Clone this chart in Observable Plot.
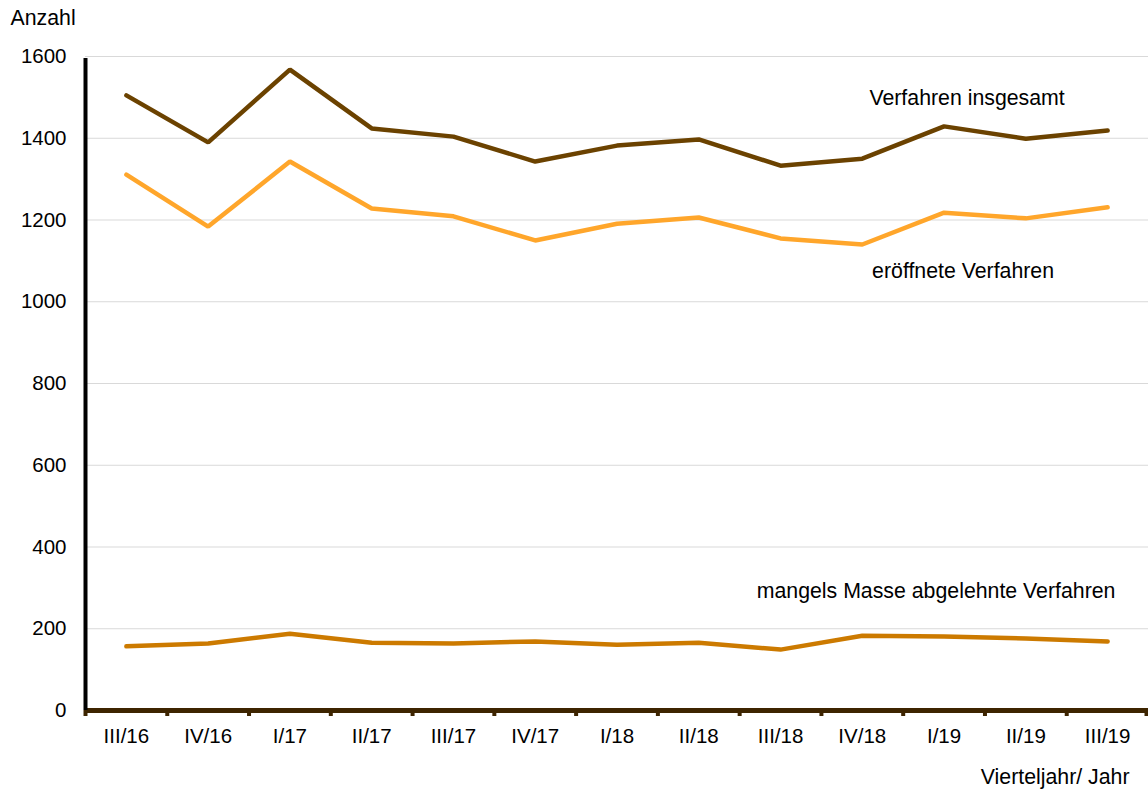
<!DOCTYPE html>
<html>
<head>
<meta charset="utf-8">
<script src="https://cdn.jsdelivr.net/npm/d3@7"></script>
<script src="https://cdn.jsdelivr.net/npm/@observablehq/plot@0.6"></script>
<style>
  html, body { margin: 0; padding: 0; background: #fff; }
  svg { display: block; }
</style>
</head>
<body>
<div id="chart"></div>
<script>
const quarters = ["III/16","IV/16","I/17","II/17","III/17","IV/17","I/18","II/18","III/18","IV/18","I/19","II/19","III/19"];
const insgesamt = [1505, 1390, 1568, 1424, 1404, 1343, 1382, 1397, 1333, 1350, 1429, 1399, 1419];
const eroeffnet = [1311, 1184, 1343, 1228, 1209, 1150, 1191, 1206, 1155, 1140, 1218, 1204, 1231];
const mangels   = [157, 164, 188, 166, 164, 169, 161, 166, 149, 183, 181, 176, 169];
const yTicks = [0, 200, 400, 600, 800, 1000, 1200, 1400, 1600];
const seriesNames = ["Verfahren insgesamt", "eröffnete Verfahren", "mangels Masse abgelehnte Verfahren"];
const seriesColors = ["#6b4200", "#ffa62b", "#cc7a00"];
const labelQuarter = "I/19";
const labelValues = [1497, 1076, 291];

const rows = [];
[insgesamt, eroeffnet, mangels].forEach((vals, s) => {
  quarters.forEach((q, i) => rows.push({series: seriesNames[s], quarter: q, value: vals[i]}));
});

const W = 1148, H = 792;
const mL = 85, mR = 0, mT = 56, mB = 82;
const bw = (W - mL - mR) / quarters.length;
const font = "Liberation Sans, Arial, sans-serif";
const labelDx = [23, 19, -8];

const chart = Plot.plot({
  width: W,
  height: H,
  marginLeft: mL,
  marginRight: mR,
  marginTop: mT,
  marginBottom: mB,
  style: {fontFamily: font, fontSize: "20px", color: "#000", background: "#fff"},
  x: {type: "band", domain: quarters, padding: 0, round: false, axis: null, label: null},
  y: {domain: [0, 1600], axis: null, label: null},
  color: {domain: seriesNames, range: seriesColors},
  marks: [
    Plot.ruleY(yTicks.filter(d => d > 0), {stroke: "#d9d9d9", strokeWidth: 1}),
    // y tick labels
    Plot.axisY({ticks: yTicks, tickSize: 0, tickPadding: 19, fontSize: 20.5, label: null, tickFormat: d => String(d)}),
    // x tick marks at band boundaries
    Plot.axisX({tickSize: 6, dx: -bw / 2, label: null, tickFormat: () => "", stroke: "#3d2400", strokeWidth: 4}),
    Plot.axisX([quarters[quarters.length - 1]], {tickSize: 6, dx: bw / 2 - 2, label: null, tickFormat: () => "", stroke: "#3d2400", strokeWidth: 4}),
    // x tick labels
    Plot.axisX({tickSize: 0, tickPadding: 18, fontSize: 20.5, label: null}),
    Plot.lineY(rows, {x: "quarter", y: "value", stroke: "series", z: "series", strokeWidth: 4.5, strokeLinejoin: "miter", strokeLinecap: "round"}),
    // bottom axis line
    Plot.ruleY([0], {stroke: "#3d2400", strokeWidth: 5}),
    // left axis line
    Plot.ruleX([quarters[0]], {dx: -bw / 2, y1: 0, y2: 1600, stroke: "#000", strokeWidth: 4, insetBottom: -2}),
    ...seriesNames.map((name, s) =>
      Plot.text([name], {x: () => labelQuarter, y: () => labelValues[s], text: d => d, dx: labelDx[s], fontSize: 21.3, fill: "#000"})
    ),
    Plot.text(["Anzahl"], {frameAnchor: "top-left", dx: -75, dy: -47, fontSize: 21.3, textAnchor: "start", lineAnchor: "top", fill: "#000"}),
    Plot.text(["Vierteljahr/ Jahr"], {frameAnchor: "bottom-right", dx: -19, dy: 73, fontSize: 21.3, textAnchor: "end", lineAnchor: "bottom", fill: "#000"})
  ]
});
document.getElementById("chart").appendChild(chart);
</script>
</body>
</html>
